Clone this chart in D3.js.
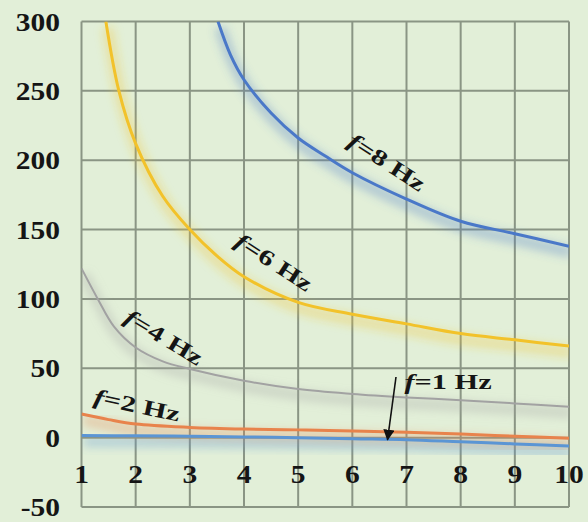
<!DOCTYPE html>
<html>
<head>
<meta charset="utf-8">
<script src="https://cdn.jsdelivr.net/npm/d3@7"></script>
<style>
  html, body { margin: 0; padding: 0; background: #e2efd8; }
  svg { display: block; }
  text { font-family: "Liberation Serif", "Times New Roman", serif; font-weight: bold; fill: #151515; }
</style>
</head>
<body>
<svg id="chart" width="588" height="522"></svg>
<script>
// Axis ticks
const xTicks = [1, 2, 3, 4, 5, 6, 7, 8, 9, 10];
const yTicks = [-50, 0, 50, 100, 150, 200, 250, 300];

// Curves, one per frequency
const f8X = [3.52, 3.75, 4, 4.5, 5, 5.5, 6, 7, 8, 9, 10];
const f8Y = [300, 276, 258, 234, 216, 203, 191, 172, 156, 147, 138];
const f6X = [1.45, 1.69, 2, 2.5, 3, 3.5, 4, 5, 6, 7, 8, 9, 10];
const f6Y = [300, 250, 212, 174, 150, 131, 116, 97.5, 89, 82, 75, 70.5, 66];
const f4X = [1, 1.3, 1.6, 2, 2.5, 3, 4, 5, 6, 7, 8, 9, 10];
const f4Y = [122, 100, 80, 65, 55, 49.5, 41, 35, 31.5, 29, 27, 24.7, 22.3];
const f2X = [1, 1.5, 2, 3, 4, 5, 6, 7, 8, 9, 10];
const f2Y = [17, 13, 9.8, 7.4, 6.2, 5.6, 4.8, 3.8, 2.6, 1, -0.5];
const f1X = [1, 2, 3, 4, 5, 6, 7, 8, 9, 10];
const f1Y = [1.5, 1.3, 1, 0.5, 0, -0.8, -1.5, -3, -4.5, -6];

const seriesNames = ["f=8 Hz", "f=6 Hz", "f=4 Hz", "f=2 Hz", "f=1 Hz"];
const seriesColors = ["#4a78c8", "#f2c22a", "#a2a2a2", "#e8834c", "#5b95d4"];
const seriesX = [f8X, f6X, f4X, f2X, f1X];
const seriesY = [f8Y, f6Y, f4Y, f2Y, f1Y];

const svg = d3.select("#chart");
const plotLeft = 81.5, plotRight = 569, plotTop = 21.5, plotBottom = 507;

const x = d3.scaleLinear().domain([1, 10]).range([plotLeft, plotRight]);
const y = d3.scaleLinear().domain([-50, 300]).range([plotBottom, plotTop]);

const defs = svg.append("defs");
defs.append("clipPath").attr("id", "plot")
  .append("rect").attr("x", plotLeft).attr("y", plotTop)
  .attr("width", plotRight - plotLeft).attr("height", plotBottom - plotTop);
const glow = defs.append("filter").attr("id", "glow")
  .attr("x", "-20%").attr("y", "-20%").attr("width", "140%").attr("height", "140%");
glow.append("feGaussianBlur").attr("stdDeviation", 4);

// Grid
const grid = svg.append("g").attr("stroke", "#8a9584").attr("stroke-width", 2).attr("fill", "none");
grid.selectAll("line.v").data(xTicks).join("line").attr("class", "v")
  .attr("x1", d => x(d)).attr("x2", d => x(d)).attr("y1", plotTop).attr("y2", plotBottom);
grid.selectAll("line.h").data(yTicks).join("line").attr("class", "h")
  .attr("x1", plotLeft).attr("x2", plotRight).attr("y1", d => y(d)).attr("y2", d => y(d));

// Tick labels (slightly widened serif digits)
svg.append("g").selectAll("text").data(yTicks).join("text")
  .attr("transform", d => `translate(60,${y(d)}) scale(1.18,1)`)
  .attr("dy", "0.36em")
  .attr("text-anchor", "end").style("font-size", "25px")
  .text(d => d);
svg.append("g").selectAll("text").data(xTicks).join("text")
  .attr("transform", d => `translate(${x(d)},483) scale(1.18,1)`)
  .attr("text-anchor", "middle").style("font-size", "25px")
  .text(d => d);

// Curves with a soft halo beneath each one
const line = d3.line().x(d => x(d[0])).y(d => y(d[1])).curve(d3.curveCatmullRom.alpha(0.5));
const curves = svg.append("g").attr("clip-path", "url(#plot)");
seriesNames.forEach((name, i) => {
  const pts = seriesX[i].map((v, j) => [v, seriesY[i][j]]);
  curves.append("path").datum(pts)
    .attr("d", line).attr("fill", "none")
    .attr("stroke", seriesColors[i]).attr("stroke-width", 12)
    .attr("stroke-opacity", 0.3).attr("filter", "url(#glow)")
    .attr("transform", "translate(2,6)");
});
seriesNames.forEach((name, i) => {
  const pts = seriesX[i].map((v, j) => [v, seriesY[i][j]]);
  curves.append("path").datum(pts)
    .attr("d", line).attr("fill", "none")
    .attr("stroke", seriesColors[i]).attr("stroke-width", i === 2 ? 2 : 3);
});

// Curve labels
const labelPos = [
  { cx: 387, cy: 162, rot: 33 },
  { cx: 274, cy: 262, rot: 33 },
  { cx: 164, cy: 337, rot: 31 },
  { cx: 137, cy: 405, rot: 12 },
  { cx: 448, cy: 381, rot: 0 }
];
const labels = svg.append("g");
seriesNames.forEach((name, i) => {
  const p = labelPos[i];
  const t = labels.append("text")
    .attr("transform", `translate(${p.cx},${p.cy}) rotate(${p.rot}) scale(1.38,1)`)
    .attr("text-anchor", "middle").attr("dy", "0.35em")
    .style("font-size", "22px");
  t.append("tspan").style("font-style", "italic").text(name.slice(0, 1));
  t.append("tspan").text(name.slice(1));
});

// Arrow pointing at the 1 Hz curve
defs.append("marker").attr("id", "arrow")
  .attr("viewBox", "0 0 10 10").attr("refX", 9).attr("refY", 5)
  .attr("markerWidth", 7).attr("markerHeight", 7).attr("orient", "auto-start-reverse")
  .append("path").attr("d", "M0,0 L10,5 L0,10 z").attr("fill", "#111");
svg.append("line")
  .attr("x1", 396).attr("y1", 377).attr("x2", x(6.65)).attr("y2", y(f1Y[5]) + 1)
  .attr("stroke", "#111").attr("stroke-width", 1.6)
  .attr("marker-end", "url(#arrow)");
</script>
</body>
</html>
